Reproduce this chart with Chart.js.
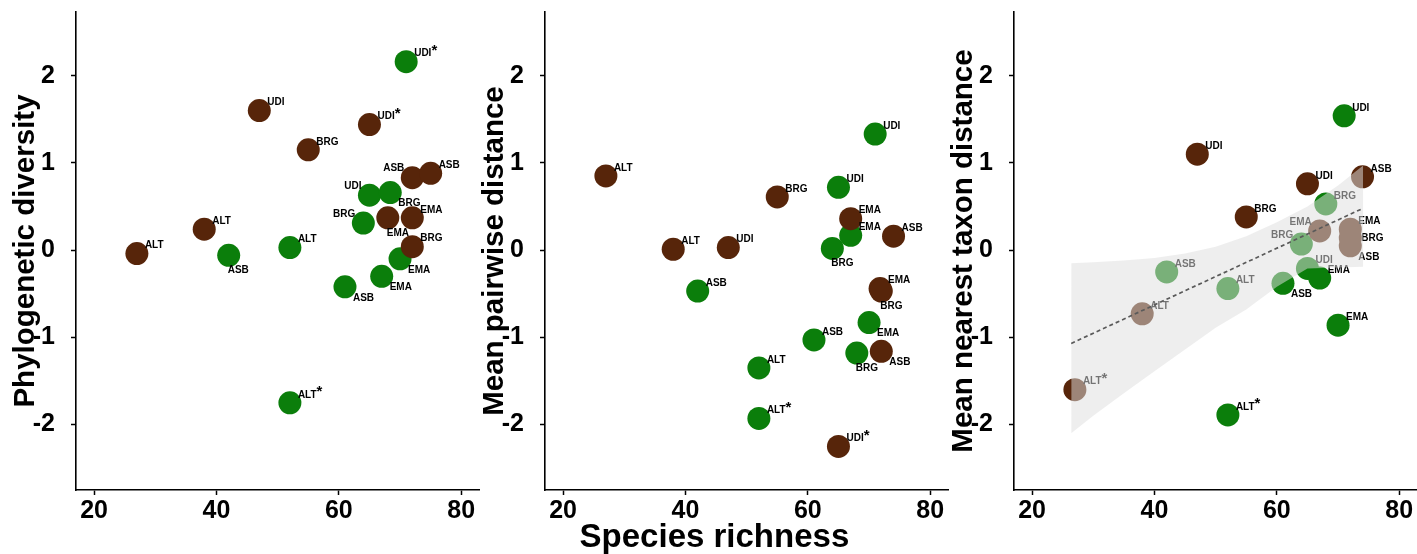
<!DOCTYPE html>
<html>
<head>
<meta charset="utf-8">
<script src="https://cdn.jsdelivr.net/npm/chart.js@4.4.1/dist/chart.umd.min.js"></script>
<style>
  html, body { margin: 0; padding: 0; background: #fff; }
  #wrap { position: relative; width: 1417px; height: 554px; overflow: hidden; }
  canvas { position: absolute; top: 0; }
</style>
</head>
<body>
<div id="wrap">
  <canvas id="pd" width="480" height="554" style="left:0px"></canvas>
  <canvas id="mpd" width="480" height="554" style="left:469px"></canvas>
  <canvas id="mntd" width="479" height="554" style="left:938px"></canvas>
</div>
<script>
const xTicks = [20, 40, 60, 80];
const yTicks = [-2, -1, 0, 1, 2];

// Phylogenetic diversity
const pdBrownRich = [27, 38, 47, 55, 65, 68, 72, 72, 72, 75];
const pdBrown = [-0.04, 0.24, 1.60, 1.15, 1.44, 0.37, 0.37, 0.04, 0.83, 0.88];
const pdBrownSite = ["ALT", "ALT", "UDI", "BRG", "UDI*", "EMA", "EMA", "BRG", "ASB", "ASB"];
const pdGreenRich = [42, 52, 52, 61, 64, 65, 67, 68.4, 70, 71];
const pdGreen = [-0.06, 0.03, -1.75, -0.42, 0.31, 0.63, -0.30, 0.66, -0.10, 2.16];
const pdGreenSite = ["ASB", "ALT", "ALT*", "ASB", "BRG", "UDI", "EMA", "BRG", "EMA", "UDI*"];

// Mean pairwise distance
const mpdBrownRich = [27, 38, 47, 55, 65, 67, 74, 71.8, 72, 72];
const mpdBrown = [0.85, 0.01, 0.03, 0.61, -2.25, 0.36, 0.16, -0.44, -0.47, -1.16];
const mpdBrownSite = ["ALT", "ALT", "UDI", "BRG", "UDI*", "EMA", "ASB", "EMA", "BRG", "ASB"];
const mpdGreenRich = [42, 52, 52, 61, 64, 65, 67, 68, 70, 71];
const mpdGreen = [-0.47, -1.35, -1.93, -1.03, 0.02, 0.72, 0.17, -1.18, -0.83, 1.33];
const mpdGreenSite = ["ASB", "ALT", "ALT*", "ASB", "BRG", "UDI", "EMA", "BRG", "EMA", "UDI"];

// Mean nearest taxon distance
const mntdBrownRich = [27, 38, 47, 55, 65, 67, 72, 72, 72, 74];
const mntdBrown = [-1.60, -0.73, 1.10, 0.38, 0.76, 0.22, 0.24, 0.14, 0.05, 0.84];
const mntdBrownSite = ["ALT*", "ALT", "UDI", "BRG", "UDI", "EMA", "EMA", "BRG", "ASB", "ASB"];
const mntdGreenRich = [42, 52, 52, 61, 64, 65, 67, 68, 70, 71];
const mntdGreen = [-0.25, -0.44, -1.89, -0.38, 0.07, -0.21, -0.32, 0.53, -0.86, 1.54];
const mntdGreenSite = ["ASB", "ALT", "ALT*", "ASB", "BRG", "UDI", "EMA", "BRG", "EMA", "UDI"];

// regression line and its band (mntd panel only)
const fitRich = [26.4, 74.1];
const fitLine = [-1.07, 0.48];
const bandRich = [26.4, 30, 35, 40, 45, 50, 55, 60, 65, 70, 74.1];
const bandUpper = [-0.15, -0.14, -0.12, -0.09, -0.04, 0.04, 0.16, 0.32, 0.50, 0.74, 0.97];
const bandLower = [-2.10, -1.90, -1.64, -1.39, -1.14, -0.89, -0.68, -0.42, -0.21, -0.20, -0.19];

// where each site label sits around its point
const pdBrownPos = ["ne", "ne", "ne", "ne", "ne", "s", "ne", "ne", "nw", "ne"];
const pdGreenPos = ["s", "ne", "ne", "se", "nw", "nw", "se", "se", "se", "ne"];
const mpdBrownPos = ["ne", "ne", "ne", "ne", "ne", "ne", "ne", "ne", "s", "se"];
const mpdGreenPos = ["ne", "ne", "ne", "ne", "s", "ne", "ne", "s", "se", "ne"];
const mntdBrownPos = ["ne", "ne", "ne", "ne", "ne", "nw", "ne", "e", "se", "ne"];
const mntdGreenPos = ["ne", "ne", "ne", "se", "nw", "ne", "ne", "ne", "ne", "ne"];

const BROWN = "#57250a";
const GREEN = "#0b7e0b";
const FONT = "'Liberation Sans', Arial, Helvetica, sans-serif";
const offsets = {
  ne: [8, -8, "left"],
  nw: [-8, -9, "right"],
  se: [8, 11, "left"],
  s: [-1, 15, "left"],
  e: [11, 0, "left"],
};

const pts = (xs, ys) => xs.map((x, i) => ({ x: x, y: ys[i] }));

// labels go on after the points, before the band is laid over them
const siteLabels = {
  id: "siteLabels",
  afterDatasetDraw(chart, args) {
    if (args.index !== 0) return;
    const ctx = chart.ctx;
    ctx.save();
    ctx.fillStyle = "#000";
    ctx.textBaseline = "middle";
    ctx.textAlign = "left";
    chart.data.datasets.forEach((ds, di) => {
      if (!ds.sites) return;
      chart.getDatasetMeta(di).data.forEach((pt, i) => {
        let txt = ds.sites[i];
        const star = txt.endsWith("*");
        if (star) txt = txt.slice(0, -1);
        const [dx, dy, align] = offsets[ds.pos[i]];
        ctx.font = "bold 10px " + FONT;
        const w = ctx.measureText(txt).width;
        const left = align === "left" ? pt.x + dx : pt.x + dx - w;
        ctx.fillText(txt, left, pt.y + dy);
        if (star) {
          ctx.font = "bold 15px " + FONT;
          ctx.fillText("*", left + w, pt.y + dy - 3);
        }
      });
    });
    ctx.restore();
  },
};

function makePanel(id, p) {
  const datasets = [
    {
      data: pts(p.brownX, p.brownY),
      sites: p.brownSites,
      pos: p.brownPos,
      backgroundColor: BROWN,
      pointRadius: 11.5,
      pointHoverRadius: 11.5,
      pointBorderWidth: 0,
      order: 1,
    },
    {
      data: pts(p.greenX, p.greenY),
      sites: p.greenSites,
      pos: p.greenPos,
      backgroundColor: GREEN,
      pointRadius: 11.5,
      pointHoverRadius: 11.5,
      pointBorderWidth: 0,
      order: 2,
    },
  ];
  if (p.band) {
    datasets.push(
      {
        type: "line",
        data: pts(bandRich, bandUpper),
        borderColor: "rgba(0,0,0,0)",
        backgroundColor: "rgba(222,222,222,0.52)",
        pointRadius: 0,
        fill: "+1",
        order: 0,
      },
      {
        type: "line",
        data: pts(bandRich, bandLower),
        borderColor: "rgba(0,0,0,0)",
        pointRadius: 0,
        fill: false,
        order: 0,
      },
      {
        type: "line",
        data: pts(fitRich, fitLine),
        borderColor: "#5a5a5a",
        borderWidth: 1.7,
        borderDash: [4, 3],
        pointRadius: 0,
        fill: false,
        order: -1,
      }
    );
  }

  new Chart(document.getElementById(id), {
    type: "scatter",
    data: { datasets },
    options: {
      responsive: false,
      animation: false,
      events: [],
      devicePixelRatio: 1,
      layout: { autoPadding: false, padding: { top: 12, left: 0, right: p.padRight, bottom: 0 } },
      plugins: {
        legend: { display: false },
        tooltip: { enabled: false },
        filler: { drawTime: "beforeDatasetDraw" },
      },
      scales: {
        x: {
          type: "linear",
          min: 17.05,
          max: 82.9,
          afterBuildTicks: (s) => { s.ticks = xTicks.map((v) => ({ value: v })); },
          afterFit: (s) => {
            s.height = 64;
            s.paddingLeft = 0;
            s.paddingRight = 0;
          },
          grid: { drawOnChartArea: false, drawTicks: true, tickLength: 5, tickWidth: 1.5, tickColor: "#000" },
          border: { display: true, color: "#000", width: 1.6 },
          ticks: { color: "#000", padding: 1, maxRotation: 0, autoSkip: false, font: { family: FONT, size: 25, weight: "bold" } },
          title: {
            display: !!p.xTitle,
            // shared axis title sits at the figure centre, a bit left of this panel's centre
            text: p.xTitle ? p.xTitle + "\u00a0".repeat(7) : "",
            color: "#000",
            padding: { top: 0, bottom: 0 },
            font: { family: FONT, size: 33, weight: "bold", lineHeight: 1 },
          },
        },
        y: {
          type: "linear",
          min: -2.75,
          max: 2.73,
          afterBuildTicks: (s) => { s.ticks = yTicks.map((v) => ({ value: v })); },
          afterFit: (s) => {
            s.width = 76;
            s.paddingTop = 0;
            s.paddingBottom = 0;
          },
          grid: { drawOnChartArea: false, drawTicks: true, tickLength: 5, tickWidth: 1.5, tickColor: "#000" },
          border: { display: true, color: "#000", width: 1.6 },
          ticks: { color: "#000", padding: 16, font: { family: FONT, size: 25, weight: "bold" } },
          title: {
            display: true,
            text: p.yTitle,
            color: "#000",
            padding: { top: 8, bottom: 0 },
            font: { family: FONT, size: 29.5, weight: "bold" },
          },
        },
      },
    },
    plugins: [siteLabels],
  });
}

makePanel("pd", {
  brownX: pdBrownRich, brownY: pdBrown, brownSites: pdBrownSite, brownPos: pdBrownPos,
  greenX: pdGreenRich, greenY: pdGreen, greenSites: pdGreenSite, greenPos: pdGreenPos,
  yTitle: "Phylogenetic diversity", padRight: 1,
});
makePanel("mpd", {
  brownX: mpdBrownRich, brownY: mpdBrown, brownSites: mpdBrownSite, brownPos: mpdBrownPos,
  greenX: mpdGreenRich, greenY: mpdGreen, greenSites: mpdGreenSite, greenPos: mpdGreenPos,
  yTitle: "Mean pairwise distance", xTitle: "Species richness", padRight: 1,
});
makePanel("mntd", {
  brownX: mntdBrownRich, brownY: mntdBrown, brownSites: mntdBrownSite, brownPos: mntdBrownPos,
  greenX: mntdGreenRich, greenY: mntdGreen, greenSites: mntdGreenSite, greenPos: mntdGreenPos,
  yTitle: "Mean nearest taxon distance", padRight: 0, band: true,
});
</script>
</body>
</html>
